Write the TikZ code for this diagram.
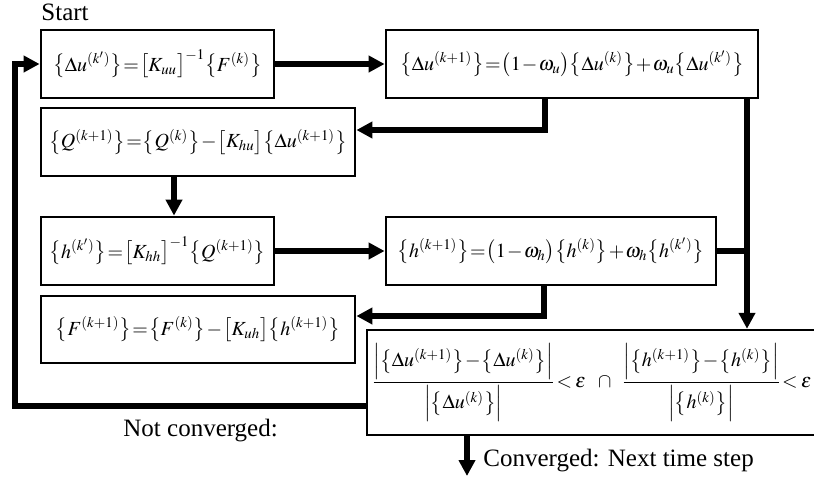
\documentclass[tikz,border=0pt]{standalone}
\usepackage{amsmath}
\usepackage{mathptmx}
\usepackage[no-math]{fontspec}
\setmainfont{Liberation Serif}
\usepackage{tikz}
\usetikzlibrary{arrows.meta, positioning}
\newcommand{\tightmath}{\fontsize{10}{12}\selectfont\thickmuskip=1mu\medmuskip=1mu\nulldelimiterspace=0pt}
\newcommand{\vb}[1]{\bigl\{#1\bigr\}}
\newcommand{\mb}[1]{\bigl[#1\bigr]}
\newcommand{\nb}[1]{\Bigl|#1\Bigr|}
\tikzset{
    block/.style={rectangle, draw=black, line width=1.4pt, fill=white, text centered, inner sep=1pt, minimum height=34pt, font=\tightmath},
    arrow/.style={line width=3pt, -{Triangle[length=8pt,width=8pt]}},
    link/.style={line width=3pt},
    note/.style={font=\fontsize{12.5}{14}\selectfont, inner sep=0pt}
}

\begin{document}
\begin{tikzpicture}[x=0.5pt, y=-0.5pt]
    \useasboundingbox (0,0) rectangle (814,477);
    % Start
    \node (start) [note, anchor=base west] at (41,20) {Start};
    \node (du_star) [block, minimum width=116.5pt] at (157.5,64) {$\vb{\Delta u^{(k')}}=\mb{K_{uu}}^{-1}\vb{F^{(k)}}$};
    \node (du_new) [block, minimum width=186pt] at (572,64) {$\vb{\Delta u^{(k+1)}}=\bigl(1-\omega_u\bigr)\vb{\Delta u^{(k)}}+\omega_u\vb{\Delta u^{(k')}}$};
    % Coupling
    \node (q_new) [block, minimum width=157pt] at (198,142) {$\vb{Q^{(k+1)}}=\vb{Q^{(k)}}-\mb{K_{hu}}\vb{\Delta u^{(k+1)}}$};
    \node (h_star) [block, minimum width=116.5pt] at (157.5,251) {$\vb{h^{(k')}}=\mb{K_{hh}}^{-1}\vb{Q^{(k+1)}}$};
    \node (h_new) [block, minimum width=165pt] at (551,251) {$\vb{h^{(k+1)}}=\bigl(1-\omega_h\bigr)\vb{h^{(k)}}+\omega_h\vb{h^{(k')}}$};
    \node (f_new) [block, minimum width=157pt, minimum height=33.5pt] at (198,329.5) {$\vb{F^{(k+1)}}=\vb{F^{(k)}}-\mb{K_{uh}}\vb{h^{(k+1)}}$};
    % Convergence check
    \node (check) [block, line width=1.2pt, minimum width=231.5pt, minimum height=52.5pt] at (598.5,382.5) {$\dfrac{\nb{\vb{\Delta u^{(k+1)}}-\vb{\Delta u^{(k)}}}}{\nb{\vb{\Delta u^{(k)}}}}\,<\,\varepsilon\mskip10mu\cap\mskip10mu\dfrac{\nb{\vb{h^{(k+1)}}-\vb{h^{(k)}}}}{\nb{\vb{h^{(k)}}}}\,<\,\varepsilon\hspace{6pt}$};
    \node (not_conv) [note, anchor=base west] at (123,436) {Not converged:};
    \node (conv) [note, anchor=base west] at (483,466) {Converged: Next time step};
    \coordinate (split) at ([xshift=87.5pt]du_new.south);
    \coordinate (back) at (15,406);
    \coordinate (done) at (467,476);
    % Arrows
    \draw [arrow] (du_star) -- (du_new);
    \draw [arrow] ([xshift=-13.5pt]du_new.south) |- ([yshift=6pt]q_new.east);
    \draw [arrow] ([xshift=-12pt]q_new.south) -- ([xshift=-12pt]q_new.south |- h_star.north);
    \draw [arrow] (h_star) -- (h_new);
    \draw [arrow] ([xshift=-3.5pt]h_new.south) |- ([yshift=6.75pt]f_new.east);
    \draw [arrow] (split) -- (split |- check.north);
    \draw [link] (h_new.east) -- (h_new.east -| split);
    \draw [arrow] ([yshift=-11.75pt]check.west) -- (back) |- (du_star.west);
    \draw [arrow] ([xshift=-65.75pt]check.south) -- (done);
\end{tikzpicture}
\end{document}
